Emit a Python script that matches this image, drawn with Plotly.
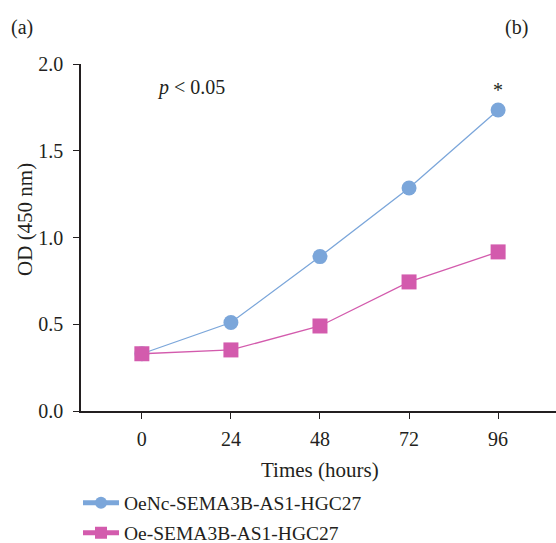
import plotly.graph_objects as go

times = [0, 24, 48, 72, 96]
oenc = [0.33, 0.51, 0.89, 1.285, 1.735]
oe = [0.33, 0.352, 0.49, 0.744, 0.917]
series_names = ["OeNc-SEMA3B-AS1-HGC27", "Oe-SEMA3B-AS1-HGC27"]
y_ticks = [0.0, 0.5, 1.0, 1.5, 2.0]
x_ticks = [0, 24, 48, 72, 96]

FONT = "Liberation Serif"
TXT = "#231F20"
blue = "#7BA6DA"
pink = "#D35BAD"


def f(size=20):
    return dict(family=FONT, size=size, color=TXT)


fig = go.Figure()
fig.add_trace(go.Scatter(x=times, y=oenc, name=series_names[0], mode="lines+markers",
                         legend="legend",
                         line=dict(color=blue, width=1.3),
                         marker=dict(symbol="circle", size=15, color=blue)))
fig.add_trace(go.Scatter(x=times, y=oe, name=series_names[1], mode="lines+markers",
                         legend="legend2",
                         line=dict(color=pink, width=1.3),
                         marker=dict(symbol="square", size=15, color=pink)))

leg_common = dict(orientation="v", xref="paper", yref="container",
                  x=-0.0063, xanchor="left", yanchor="middle",
                  font=f(19.5), itemwidth=36, itemsizing="constant",
                  bgcolor="rgba(0,0,0,0)", borderwidth=0)

fig.update_layout(
    width=556, height=543,
    margin=dict(l=81, r=0, t=64, b=132),
    paper_bgcolor="white", plot_bgcolor="white",
    font=f(20),
    showlegend=True,
    legend=dict(leg_common, y=1 - 503 / 543),
    legend2=dict(leg_common, y=1 - 533 / 543),
    xaxis=dict(range=[-16.4, 111.6], tickvals=x_ticks, ticks="outside", ticklen=6,
               tickwidth=1.3, tickcolor=TXT, ticklabelstandoff=3,
               showline=True, linecolor=TXT, linewidth=1.5, showgrid=False,
               zeroline=False, tickfont=f(20)),
    yaxis=dict(range=[0, 2.0], tickvals=y_ticks, tickformat=".1f", ticks="outside", ticklen=6,
               tickwidth=1.3, tickcolor=TXT, ticklabelstandoff=6,
               showline=True, linecolor=TXT, linewidth=1.5, showgrid=False,
               zeroline=False, tickfont=f(20)),
)

# axis titles
fig.add_annotation(text="Times (hours)", xref="paper", yref="paper", x=0.503, y=-0.170,
                   xanchor="center", yanchor="middle", showarrow=False, font=f(21))
fig.add_annotation(text="OD (450 nm)", xref="paper", yref="paper", x=-0.118, y=0.5533,
                   xanchor="center", yanchor="middle", textangle=-90, showarrow=False, font=f(21))

# panel labels and significance text
fig.add_annotation(text="(a)", xref="paper", yref="paper", x=-0.1232, y=1.1066,
                   xanchor="center", yanchor="middle", showarrow=False, font=f(20))
fig.add_annotation(text="(b)", xref="paper", yref="paper", x=0.9158, y=1.1066,
                   xanchor="center", yanchor="middle", showarrow=False, font=f(20))
fig.add_annotation(text="<i>p</i> < 0.05", xref="x", yref="y", x=3.6, y=1.862,
                   xanchor="left", yanchor="middle", showarrow=False, font=f(20))
fig.add_annotation(text="*", xref="x", yref="y", x=96, y=1.85,
                   xanchor="center", yanchor="middle", showarrow=False, font=f(20))

fig.write_html("out.html")
